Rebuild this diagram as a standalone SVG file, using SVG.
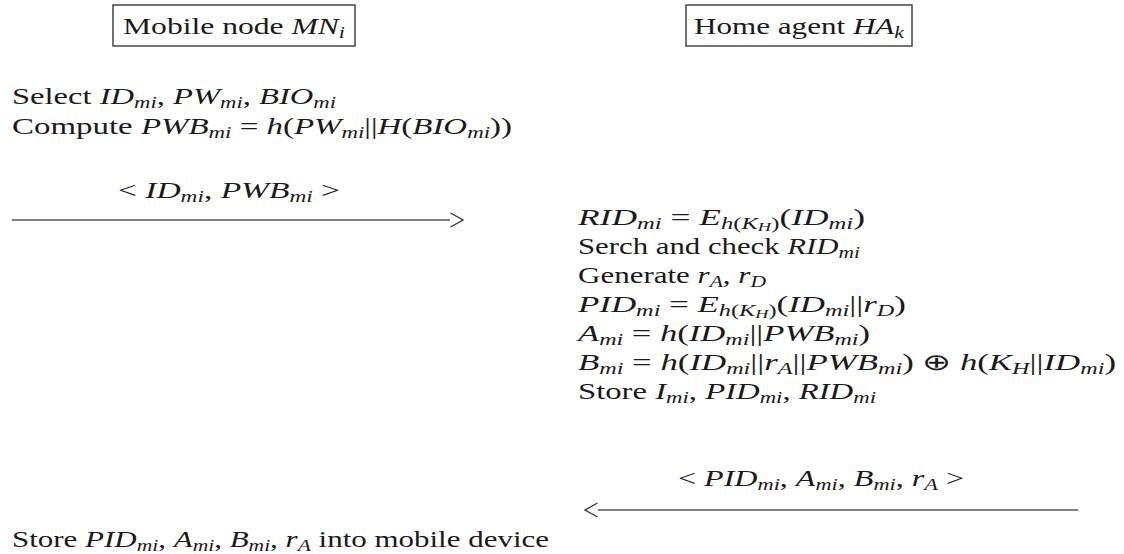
<svg xmlns="http://www.w3.org/2000/svg" width="1124" height="554" viewBox="0 0 1124 554">
<style>
.t{font-family:"Liberation Serif",serif;font-size:23px;fill:#1a1a1a}
.i{font-style:italic}
.s{font-size:16px}
.ss{font-size:12px}
.box{fill:none;stroke:#444;stroke-width:1.5}
.ln{fill:none;stroke:#555;stroke-width:1.3}
</style>
<defs>
<marker id="ah" viewBox="0 0 14 16" refX="0" refY="8" markerWidth="14" markerHeight="16" markerUnits="userSpaceOnUse" orient="auto">
<path d="M0.5,1 L13,8 L0.5,15" fill="none" stroke="#333" stroke-width="1.3"/>
</marker>
</defs>
<rect width="1124" height="554" fill="#fff"/>
<g id="mobile-node">
<rect class="box" x="113" y="5" width="242" height="41"/>
<text class="t" x="123" y="34" textLength="222" lengthAdjust="spacingAndGlyphs">Mobile node <tspan class="i">MN</tspan><tspan class="i s" dy="4">i</tspan></text>
</g>
<g id="home-agent">
<rect class="box" x="686" y="5" width="226" height="41"/>
<text class="t" x="694" y="34" textLength="210" lengthAdjust="spacingAndGlyphs">Home agent <tspan class="i">HA</tspan><tspan class="i s" dy="4">k</tspan></text>
</g>
<g id="mn-steps">
<text class="t" x="12" y="104" textLength="324" lengthAdjust="spacingAndGlyphs">Select <tspan class="i">ID</tspan><tspan class="i s" dy="4">mi</tspan><tspan dy="-4">, </tspan><tspan class="i">PW</tspan><tspan class="i s" dy="4">mi</tspan><tspan dy="-4">, </tspan><tspan class="i">BIO</tspan><tspan class="i s" dy="4">mi</tspan></text>
<text class="t" x="12" y="134" textLength="500" lengthAdjust="spacingAndGlyphs">Compute <tspan class="i">PWB</tspan><tspan class="i s" dy="4">mi</tspan><tspan dy="-4"> = </tspan><tspan class="i">h</tspan>(<tspan class="i">PW</tspan><tspan class="i s" dy="4">mi</tspan><tspan dy="-4">||</tspan><tspan class="i">H</tspan>(<tspan class="i">BIO</tspan><tspan class="i s" dy="4">mi</tspan><tspan dy="-4">))</tspan></text>
</g>
<g id="ha-steps">
<text class="t" x="578" y="225" textLength="287" lengthAdjust="spacingAndGlyphs"><tspan class="i">RID</tspan><tspan class="i s" dy="4">mi</tspan><tspan dy="-4"> = </tspan><tspan class="i">E</tspan><tspan class="i s" dy="4">h</tspan><tspan class="s">(</tspan><tspan class="i s">K</tspan><tspan class="i ss" dy="2">H</tspan><tspan class="s" dy="-2">)</tspan><tspan dy="-4">(</tspan><tspan class="i">ID</tspan><tspan class="i s" dy="4">mi</tspan><tspan dy="-4">)</tspan></text>
<text class="t" x="578" y="254" textLength="282" lengthAdjust="spacingAndGlyphs">Serch and check <tspan class="i">RID</tspan><tspan class="i s" dy="4">mi</tspan></text>
<text class="t" x="578" y="283" textLength="188" lengthAdjust="spacingAndGlyphs">Generate <tspan class="i">r</tspan><tspan class="i s" dy="4">A</tspan><tspan dy="-4">, </tspan><tspan class="i">r</tspan><tspan class="i s" dy="4">D</tspan></text>
<text class="t" x="578" y="312" textLength="328" lengthAdjust="spacingAndGlyphs"><tspan class="i">PID</tspan><tspan class="i s" dy="4">mi</tspan><tspan dy="-4"> = </tspan><tspan class="i">E</tspan><tspan class="i s" dy="4">h</tspan><tspan class="s">(</tspan><tspan class="i s">K</tspan><tspan class="i ss" dy="2">H</tspan><tspan class="s" dy="-2">)</tspan><tspan dy="-4">(</tspan><tspan class="i">ID</tspan><tspan class="i s" dy="4">mi</tspan><tspan dy="-4">||</tspan><tspan class="i">r</tspan><tspan class="i s" dy="4">D</tspan><tspan dy="-4">)</tspan></text>
<text class="t" x="578" y="341" textLength="292" lengthAdjust="spacingAndGlyphs"><tspan class="i">A</tspan><tspan class="i s" dy="4">mi</tspan><tspan dy="-4"> = </tspan><tspan class="i">h</tspan>(<tspan class="i">ID</tspan><tspan class="i s" dy="4">mi</tspan><tspan dy="-4">||</tspan><tspan class="i">PWB</tspan><tspan class="i s" dy="4">mi</tspan><tspan dy="-4">)</tspan></text>
<text class="t" x="578" y="370" textLength="538" lengthAdjust="spacingAndGlyphs"><tspan class="i">B</tspan><tspan class="i s" dy="4">mi</tspan><tspan dy="-4"> = </tspan><tspan class="i">h</tspan>(<tspan class="i">ID</tspan><tspan class="i s" dy="4">mi</tspan><tspan dy="-4">||</tspan><tspan class="i">r</tspan><tspan class="i s" dy="4">A</tspan><tspan dy="-4">||</tspan><tspan class="i">PWB</tspan><tspan class="i s" dy="4">mi</tspan><tspan dy="-4">) ⊕ </tspan><tspan class="i">h</tspan>(<tspan class="i">K</tspan><tspan class="i s" dy="4">H</tspan><tspan dy="-4">||</tspan><tspan class="i">ID</tspan><tspan class="i s" dy="4">mi</tspan><tspan dy="-4">)</tspan></text>
<text class="t" x="578" y="399" textLength="298" lengthAdjust="spacingAndGlyphs">Store <tspan class="i">I</tspan><tspan class="i s" dy="4">mi</tspan><tspan dy="-4">, </tspan><tspan class="i">PID</tspan><tspan class="i s" dy="4">mi</tspan><tspan dy="-4">, </tspan><tspan class="i">RID</tspan><tspan class="i s" dy="4">mi</tspan></text>
</g>
<g id="mn-final">
<text class="t" x="12" y="547" textLength="537" lengthAdjust="spacingAndGlyphs">Store <tspan class="i">PID</tspan><tspan class="i s" dy="4">mi</tspan><tspan dy="-4">, </tspan><tspan class="i">A</tspan><tspan class="i s" dy="4">mi</tspan><tspan dy="-4">, </tspan><tspan class="i">B</tspan><tspan class="i s" dy="4">mi</tspan><tspan dy="-4">, </tspan><tspan class="i">r</tspan><tspan class="i s" dy="4">A</tspan><tspan dy="-4"> into mobile device</tspan></text>
</g>
<g id="connectors">
<path class="ln" d="M12,220 H450" marker-end="url(#ah)"/>
<text class="t" x="118" y="198" textLength="222" lengthAdjust="spacingAndGlyphs">&lt; <tspan class="i">ID</tspan><tspan class="i s" dy="4">mi</tspan><tspan dy="-4">, </tspan><tspan class="i">PWB</tspan><tspan class="i s" dy="4">mi</tspan><tspan dy="-4"> &gt;</tspan></text>
<path class="ln" d="M1078,510 H598" marker-end="url(#ah)"/>
<text class="t" x="678" y="486" textLength="286" lengthAdjust="spacingAndGlyphs">&lt; <tspan class="i">PID</tspan><tspan class="i s" dy="4">mi</tspan><tspan dy="-4">, </tspan><tspan class="i">A</tspan><tspan class="i s" dy="4">mi</tspan><tspan dy="-4">, </tspan><tspan class="i">B</tspan><tspan class="i s" dy="4">mi</tspan><tspan dy="-4">, </tspan><tspan class="i">r</tspan><tspan class="i s" dy="4">A</tspan><tspan dy="-4"> &gt;</tspan></text>
</g>
</svg>
